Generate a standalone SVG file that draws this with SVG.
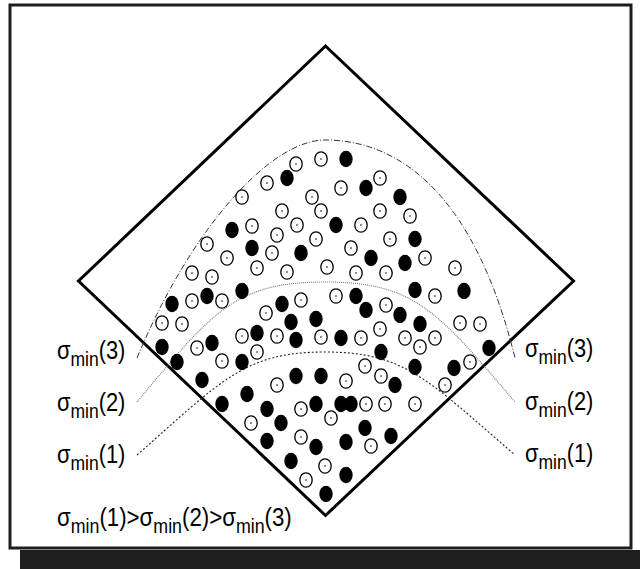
<svg xmlns="http://www.w3.org/2000/svg" xmlns:xlink="http://www.w3.org/1999/xlink" width="640" height="569" viewBox="0 0 640 569">
<style>
.frame{fill:none;stroke:#1e1e1e;stroke-width:3}
.band{fill:#1e1e1e}
.diamond{fill:none;stroke:#000;stroke-width:3;stroke-linejoin:miter}
.c3{fill:none;stroke:#333;stroke-width:1;stroke-dasharray:6 2 1 2}
.c2{fill:none;stroke:#777;stroke-width:1.1;stroke-dasharray:1 1}
.c1{fill:none;stroke:#222;stroke-width:1.1;stroke-dasharray:2 2}
.t{font-family:"Liberation Sans",Arial,sans-serif;font-size:25px;fill:#000}
.s{font-size:20px}
</style>
<defs>
<g id="o"><ellipse rx="6.2" ry="7.2" fill="#fff" stroke="#000" stroke-width="1.3"/><circle r="0.8" fill="#000"/></g>
<ellipse id="f" rx="6.7" ry="8.2" fill="#000"/>
</defs>
<rect class="frame" x="10" y="5" width="621" height="543"/>
<rect class="band" x="20" y="550" width="620" height="19"/>
<g id="diamond"><polygon class="diamond" points="325.5,46 573.5,281 325.5,515.5 78.5,281"/></g>
<g id="connectors">
<path id="sigma3" class="c3" d="M137,358 C190,230 270,140 325,140 C400,140 475,195 515,358"/>
<path id="sigma2" class="c2" d="M137,402 C212,312 235,282 325,282 C415,282 438,312 515,402"/>
<path id="sigma1" class="c1" d="M137,455 C222,380 245,352 325,352 C405,352 428,380 515,455"/>
</g>
<g id="open-dots">
<use xlink:href="#o" x="296" y="164"/><use xlink:href="#o" x="321" y="159"/><use xlink:href="#o" x="267" y="183"/><use xlink:href="#o" x="380" y="178"/>
<use xlink:href="#o" x="242" y="197"/><use xlink:href="#o" x="312" y="197"/><use xlink:href="#o" x="341" y="188"/><use xlink:href="#o" x="282" y="211"/>
<use xlink:href="#o" x="321" y="211"/><use xlink:href="#o" x="380" y="211"/><use xlink:href="#o" x="410" y="216"/><use xlink:href="#o" x="252" y="226"/>
<use xlink:href="#o" x="297" y="225"/><use xlink:href="#o" x="277" y="235"/><use xlink:href="#o" x="316" y="239"/><use xlink:href="#o" x="361" y="225"/>
<use xlink:href="#o" x="390" y="239"/><use xlink:href="#o" x="207" y="244"/><use xlink:href="#o" x="272" y="253"/><use xlink:href="#o" x="227" y="258"/>
<use xlink:href="#o" x="351" y="248"/><use xlink:href="#o" x="425" y="258"/><use xlink:href="#o" x="327" y="267"/><use xlink:href="#o" x="192" y="273"/>
<use xlink:href="#o" x="212" y="277"/><use xlink:href="#o" x="257" y="268"/><use xlink:href="#o" x="287" y="272"/><use xlink:href="#o" x="356" y="273"/>
<use xlink:href="#o" x="386" y="273"/><use xlink:href="#o" x="455" y="268"/><use xlink:href="#o" x="192" y="301"/><use xlink:href="#o" x="222" y="301"/>
<use xlink:href="#o" x="301" y="300"/><use xlink:href="#o" x="336" y="296"/><use xlink:href="#o" x="435" y="296"/><use xlink:href="#o" x="266" y="313"/>
<use xlink:href="#o" x="386" y="305"/><use xlink:href="#o" x="162" y="323"/><use xlink:href="#o" x="182" y="324"/><use xlink:href="#o" x="380" y="329"/>
<use xlink:href="#o" x="460" y="323"/><use xlink:href="#o" x="480" y="324"/><use xlink:href="#o" x="242" y="336"/><use xlink:href="#o" x="277" y="336"/>
<use xlink:href="#o" x="321" y="337"/><use xlink:href="#o" x="361" y="338"/><use xlink:href="#o" x="405" y="338"/><use xlink:href="#o" x="435" y="338"/>
<use xlink:href="#o" x="420" y="347"/><use xlink:href="#o" x="197" y="348"/><use xlink:href="#o" x="222" y="361"/><use xlink:href="#o" x="257" y="352"/>
<use xlink:href="#o" x="365" y="366"/><use xlink:href="#o" x="470" y="362"/><use xlink:href="#o" x="277" y="385"/><use xlink:href="#o" x="346" y="381"/>
<use xlink:href="#o" x="381" y="376"/><use xlink:href="#o" x="445" y="385"/><use xlink:href="#o" x="301" y="409"/><use xlink:href="#o" x="366" y="404"/>
<use xlink:href="#o" x="385" y="404"/><use xlink:href="#o" x="415" y="404"/><use xlink:href="#o" x="251" y="423"/><use xlink:href="#o" x="331" y="418"/>
<use xlink:href="#o" x="301" y="437"/><use xlink:href="#o" x="371" y="446"/><use xlink:href="#o" x="325" y="466"/><use xlink:href="#o" x="306" y="480"/>
</g>
<g id="filled-dots">
<use xlink:href="#f" x="346" y="159"/><use xlink:href="#f" x="287" y="178"/><use xlink:href="#f" x="366" y="188"/><use xlink:href="#f" x="400" y="197"/>
<use xlink:href="#f" x="232" y="230"/><use xlink:href="#f" x="336" y="225"/><use xlink:href="#f" x="252" y="248"/><use xlink:href="#f" x="301" y="253"/>
<use xlink:href="#f" x="415" y="239"/><use xlink:href="#f" x="371" y="258"/><use xlink:href="#f" x="405" y="263"/><use xlink:href="#f" x="242" y="291"/>
<use xlink:href="#f" x="207" y="296"/><use xlink:href="#f" x="172" y="304"/><use xlink:href="#f" x="282" y="304"/><use xlink:href="#f" x="415" y="290"/>
<use xlink:href="#f" x="464" y="291"/><use xlink:href="#f" x="291" y="322"/><use xlink:href="#f" x="316" y="319"/><use xlink:href="#f" x="356" y="296"/>
<use xlink:href="#f" x="366" y="310"/><use xlink:href="#f" x="400" y="315"/><use xlink:href="#f" x="420" y="324"/><use xlink:href="#f" x="489" y="348"/>
<use xlink:href="#f" x="162" y="347"/><use xlink:href="#f" x="212" y="343"/><use xlink:href="#f" x="257" y="333"/><use xlink:href="#f" x="296" y="340"/>
<use xlink:href="#f" x="341" y="338"/><use xlink:href="#f" x="381" y="352"/><use xlink:href="#f" x="177" y="362"/><use xlink:href="#f" x="242" y="362"/>
<use xlink:href="#f" x="202" y="380"/><use xlink:href="#f" x="296" y="376"/><use xlink:href="#f" x="321" y="376"/><use xlink:href="#f" x="415" y="367"/>
<use xlink:href="#f" x="454" y="368"/><use xlink:href="#f" x="395" y="385"/><use xlink:href="#f" x="222" y="404"/><use xlink:href="#f" x="247" y="394"/>
<use xlink:href="#f" x="267" y="409"/><use xlink:href="#f" x="316" y="404"/><use xlink:href="#f" x="341" y="404"/><use xlink:href="#f" x="351" y="404"/>
<use xlink:href="#f" x="281" y="423"/><use xlink:href="#f" x="365" y="428"/><use xlink:href="#f" x="267" y="441"/><use xlink:href="#f" x="316" y="447"/>
<use xlink:href="#f" x="346" y="442"/><use xlink:href="#f" x="391" y="436"/><use xlink:href="#f" x="291" y="461"/><use xlink:href="#f" x="346" y="475"/>
<use xlink:href="#f" x="326" y="494"/>
</g>
<g id="labels-left">
<text class="t" transform="translate(57,359) scale(0.875,1)">σ<tspan class="s" dy="7">min</tspan><tspan dy="-7">(3)</tspan></text>
<text class="t" transform="translate(57,411) scale(0.875,1)">σ<tspan class="s" dy="7">min</tspan><tspan dy="-7">(2)</tspan></text>
<text class="t" transform="translate(57,463) scale(0.875,1)">σ<tspan class="s" dy="7">min</tspan><tspan dy="-7">(1)</tspan></text>
</g>
<g id="labels-right">
<text class="t" transform="translate(525,357) scale(0.875,1)">σ<tspan class="s" dy="7">min</tspan><tspan dy="-7">(3)</tspan></text>
<text class="t" transform="translate(525,410) scale(0.875,1)">σ<tspan class="s" dy="7">min</tspan><tspan dy="-7">(2)</tspan></text>
<text class="t" transform="translate(525,462) scale(0.875,1)">σ<tspan class="s" dy="7">min</tspan><tspan dy="-7">(1)</tspan></text>
</g>
<g id="caption">
<text class="t" transform="translate(57,526) scale(0.89,1)">σ<tspan class="s" dy="7">min</tspan><tspan dy="-7">(1)&gt;σ</tspan><tspan class="s" dy="7">min</tspan><tspan dy="-7">(2)&gt;σ</tspan><tspan class="s" dy="7">min</tspan><tspan dy="-7">(3)</tspan></text>
</g>
</svg>
